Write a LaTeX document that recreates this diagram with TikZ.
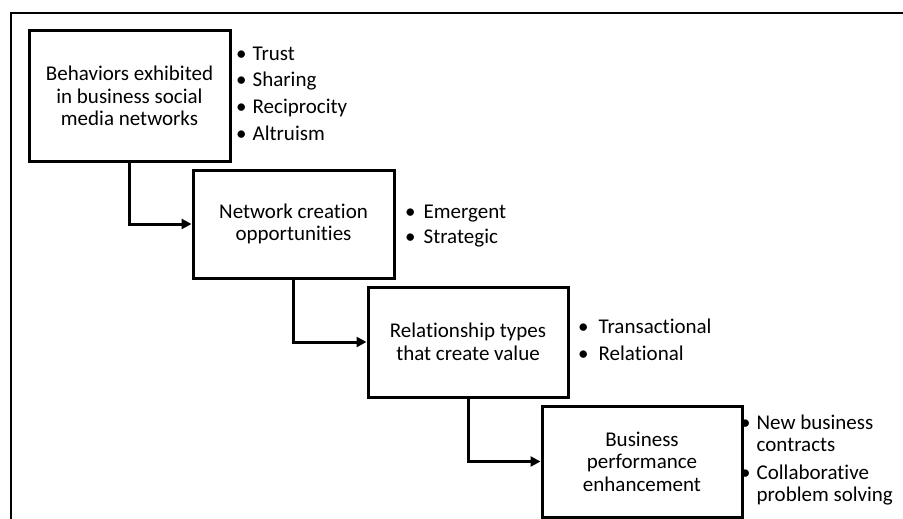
\documentclass[tikz,border=0pt]{standalone}
\usepackage{fontspec}
\setmainfont{Carlito}[Ligatures=NoCommon]
\usetikzlibrary{arrows.meta}
\begin{document}
\begin{tikzpicture}[x=1pt,y=1pt,
  stagebox/.style={draw, line width=3pt, align=center, inner sep=0pt,
    font=\fontsize{21}{22.5}\selectfont},
  flow/.style={line width=3pt, -{Triangle[length=10pt,width=10pt]}},
  itemlist/.style={anchor=west, inner sep=0pt, align=left}]
\useasboundingbox (0,0) rectangle (903,-519);
\clip (0,0) rectangle (903,-519);
% outer frame, running off the right and bottom edges
\draw[line width=2.4pt] (11,-13) rectangle (960,-600);

% stages
\node[stagebox, minimum width=201pt, minimum height=130pt] (b1) at (129.5,-96)
  {Behaviors exhibited\\in business social\\media networks};
\node[stagebox, minimum width=201pt, minimum height=108pt] (b2) at (293.5,-224)
  {Network creation\\opportunities};
\node[stagebox, minimum width=200pt, minimum height=110pt] (b3) at (468,-342)
  {Relationship types\\that create value};
\node[stagebox, minimum width=200pt, minimum height=111pt] (b4) at (642,-461.5)
  {Business\\performance\\enhancement};

% connectors
\draw[flow] (b1.south) |- (b2.west);
\draw[flow] (b2.south) |- (b3.west);
\draw[flow] (b3.south) |- (b4.west);

% bullet lists
\node[itemlist] (l1) at (236,-95) {\fontsize{21}{26.7}\selectfont
  \begin{tabular}{@{}l@{\hspace{6pt}}l@{}}
  • & Trust\\ • & Sharing\\ • & Reciprocity\\ • & Altruism
  \end{tabular}};
\node[itemlist] (l2) at (405,-225.5) {\fontsize{21}{25}\selectfont
  \begin{tabular}{@{}l@{\hspace{8pt}}l@{}}
  • & Emergent\\ • & Strategic
  \end{tabular}};
\node[itemlist] (l3) at (578,-341.5) {\fontsize{21}{27}\selectfont
  \begin{tabular}{@{}l@{\hspace{10pt}}l@{}}
  • & Transactional\\ • & Relational
  \end{tabular}};
\node[itemlist] (l4) at (740,-461) {\fontsize{21}{22}\selectfont
  \begin{tabular}{@{}l@{\hspace{6pt}}l@{}}
  • & New business\\ & contracts\\[6pt] • & Collaborative\\ & problem solving
  \end{tabular}};
\end{tikzpicture}
\end{document}
